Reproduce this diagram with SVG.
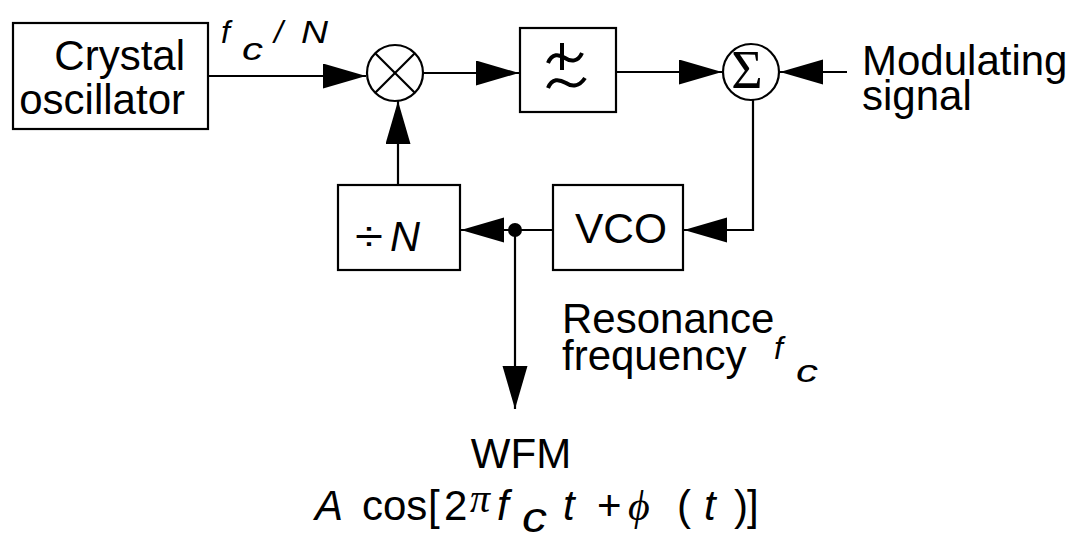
<svg xmlns="http://www.w3.org/2000/svg" width="1075" height="539" viewBox="0 0 1075 539">
<style>
.box{fill:#fff;stroke:#000;stroke-width:2.2}
.ln{fill:none;stroke:#000;stroke-width:2.2}
.t{font-family:"Liberation Sans",Arial,sans-serif;font-size:42px;fill:#000}
.m{font-family:"Liberation Sans",Arial,sans-serif;font-size:32px;fill:#000;font-style:italic}
.s{font-family:"Liberation Serif","Times New Roman",serif;fill:#000}
</style>
<defs>
<marker id="ah" markerUnits="userSpaceOnUse" markerWidth="44" markerHeight="26" refX="43" refY="12.5" orient="auto" viewBox="0 0 44 26">
<path d="M0,0 L43,12.5 L0,25 z" fill="#000"/>
</marker>
</defs>
<rect width="1075" height="539" fill="#fff"/>
<g id="connectors">
<line class="ln" x1="208" y1="76" x2="366" y2="76" marker-end="url(#ah)"/>
<line class="ln" x1="423" y1="73" x2="519" y2="73" marker-end="url(#ah)"/>
<line class="ln" x1="616" y1="72" x2="722" y2="72" marker-end="url(#ah)"/>
<line class="ln" x1="847" y1="72" x2="780" y2="72" marker-end="url(#ah)"/>
<polyline class="ln" points="753,100 753,230 684,230" marker-end="url(#ah)"/>
<line class="ln" x1="560" y1="230" x2="461" y2="230" marker-end="url(#ah)"/>
<line class="ln" x1="398" y1="185" x2="398" y2="101" marker-end="url(#ah)"/>
<line class="ln" x1="515" y1="230" x2="515" y2="409" marker-end="url(#ah)"/>
<circle cx="515" cy="230" r="7" fill="#000"/>
</g>
<g id="crystal">
<rect class="box" x="13" y="23" width="195" height="106"/>
<text class="t" x="185" y="70" text-anchor="end">Crystal</text>
<text class="t" x="185" y="114" text-anchor="end">oscillator</text>
</g>
<g id="label-fcN">
<text class="m" x="221" y="43">f</text>
<text class="m" x="242" y="60" textLength="21" lengthAdjust="spacingAndGlyphs">c</text>
<text class="m" x="274" y="43">/</text>
<text class="m" x="301" y="43" textLength="27" lengthAdjust="spacingAndGlyphs">N</text>
</g>
<g id="mixer">
<circle class="ln" cx="395" cy="73" r="28" fill="#fff"/>
<line class="ln" x1="375.2" y1="53.2" x2="414.8" y2="92.8"/>
<line class="ln" x1="414.8" y1="53.2" x2="375.2" y2="92.8"/>
</g>
<g id="filter">
<rect class="box" x="520" y="28" width="96" height="84"/>
<path d="M562,43 L562,70" stroke="#000" stroke-width="4" fill="none"/>
<path d="M548,63 C552,53 559,54 565,58 C571,62 578,62 582,53" stroke="#000" stroke-width="4" fill="none"/>
<path d="M548,88 C552,78 559,79 566,83 C572,87 579,87 585,78" stroke="#000" stroke-width="4" fill="none"/>
</g>
<g id="sum">
<circle class="ln" cx="751" cy="72" r="28" fill="#fff"/>
<text class="s" x="747" y="88" font-size="54" text-anchor="middle">Σ</text>
</g>
<g id="modulating">
<text class="t" x="862" y="75">Modulating</text>
<text class="t" x="862" y="110">signal</text>
</g>
<g id="divider">
<rect class="box" x="338" y="185" width="122" height="85"/>
<text class="t" x="355" y="251" font-size="40" textLength="28" lengthAdjust="spacingAndGlyphs">÷</text>
<text class="t" x="390" y="251" font-size="40" font-style="italic" textLength="30" lengthAdjust="spacingAndGlyphs">N</text>
</g>
<g id="vco">
<rect class="box" x="553" y="185" width="130" height="85"/>
<text class="t" x="575" y="243" font-size="40" textLength="92" lengthAdjust="spacingAndGlyphs">VCO</text>
</g>
<g id="resonance">
<text class="t" x="562" y="333">Resonance</text>
<text class="t" x="562" y="370">frequency</text>
<text class="m" x="774" y="359" font-size="35">f</text>
<text class="m" x="796" y="382" font-size="35" textLength="22" lengthAdjust="spacingAndGlyphs">c</text>
</g>
<g id="output">
<text class="t" x="521" y="468" font-size="40" text-anchor="middle">WFM</text>
<text class="t" x="315" y="520" font-size="40" font-style="italic">A</text>
<text class="t" x="362" y="520" font-size="40">cos</text>
<text class="t" x="428" y="520" font-size="40">[</text>
<text class="t" x="444" y="520" font-size="40">2</text>
<text class="s" x="470" y="512" font-size="40" font-style="italic">π</text>
<text class="t" x="497" y="520" font-size="38" font-style="italic">f</text>
<text class="t" x="522" y="532" font-size="31" font-style="italic" textLength="25" lengthAdjust="spacingAndGlyphs">c</text>
<text class="t" x="563" y="520" font-size="38" font-style="italic">t</text>
<text class="t" x="597" y="520" font-size="36">+</text>
<text class="s" x="628" y="520" font-size="42" font-style="italic">ϕ</text>
<text class="t" x="677" y="520" font-size="38">(</text>
<text class="t" x="704" y="520" font-size="38" font-style="italic">t</text>
<text class="t" x="734" y="520" font-size="38">)</text>
<text class="t" x="747" y="520" font-size="38">]</text>
</g>
</svg>
